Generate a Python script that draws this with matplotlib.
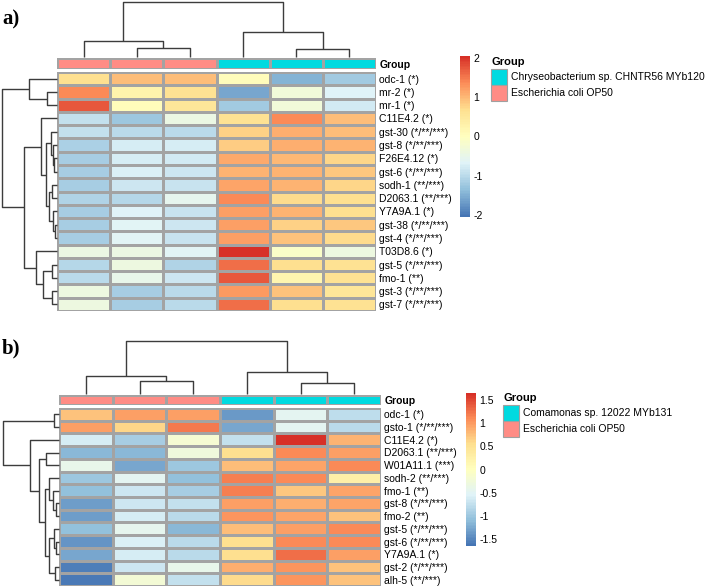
import numpy as np
import matplotlib
matplotlib.use("Agg")
import matplotlib.pyplot as plt
from matplotlib.colors import LinearSegmentedColormap, ListedColormap
from matplotlib.patches import Rectangle

plt.rcParams['font.family'] = ['Liberation Sans', 'DejaVu Sans']

W, H = 709, 587

# ---------------- data: panel a ----------------
genes_a = ["odc-1 (*)", "mr-2 (*)", "mr-1 (*)", "C11E4.2 (*)", "gst-30 (*/**/***)",
           "gst-8 (*/**/***)", "F26E4.12 (*)", "gst-6 (*/**/***)", "sodh-1 (**/***)",
           "D2063.1 (**/***)", "Y7A9A.1 (*)", "gst-38 (*/**/***)", "gst-4 (*/**/***)",
           "T03D8.6 (*)", "gst-5 (*/**/***)", "fmo-1 (**)", "gst-3 (*/**/***)",
           "gst-7 (*/**/***)"]
values_a = np.array([
    [0.70, 0.95, 0.95, 0.05, -1.45, -1.20],
    [1.40, 0.25, 0.65, -1.59, -0.32, -0.68],
    [1.75, 0.05, 0.55, -1.20, -0.32, -0.81],
    [-0.91, -1.26, -0.44, 0.62, 1.37, 0.95],
    [-0.91, -1.01, -1.01, 0.81, 1.08, 0.96],
    [-1.15, -0.78, -0.78, 0.85, 1.08, 1.04],
    [-1.17, -0.78, -0.80, 1.15, 1.02, 0.75],
    [-1.17, -0.72, -0.84, 1.05, 1.04, 0.90],
    [-1.17, -0.84, -0.89, 1.18, 1.04, 0.78],
    [-1.10, -1.06, -0.55, 1.40, 0.73, 0.70],
    [-1.17, -0.68, -0.89, 1.21, 1.04, 0.68],
    [-1.17, -0.62, -0.86, 1.21, 0.81, 0.89],
    [-1.17, -0.65, -0.89, 1.21, 0.91, 0.71],
    [-0.42, -0.42, -0.65, 2.05, -0.11, -0.40],
    [-1.06, -0.40, -1.10, 1.59, 0.68, 0.62],
    [-1.01, -0.51, -0.84, 1.75, 0.22, 0.62],
    [-0.40, -1.17, -1.01, 1.27, 0.91, 0.54],
    [-0.40, -1.17, -1.01, 1.59, 0.70, 0.62],
])
groups_a = ["Chryseobacterium sp. CHNTR56 MYb120", "Escherichia coli OP50"]
col_group_a = [1, 1, 1, 0, 0, 0]
# trees: (left, right, merge height); leaves are row/column indices
col_tree_a = ((0, (1, 2, 9), 16), (3, (4, 5, 8), 25), 56)
row_tree_a = (
    (0, (1, 2, 10), 28),
    ((3, ((4, (5, (6, 7, 3), 4), 6), ((8, 9, 5), (10, (11, 12, 2), 4), 8), 11), 16),
     (13, ((14, 15, 5), (16, 17, 5), 14), 21), 33),
    55)
lim_a = 2.06
ticks_a = [-2, -1, 0, 1, 2]

# ---------------- data: panel b ----------------
genes_b = ["odc-1 (*)", "gsto-1 (*/**/***)", "C11E4.2 (*)", "D2063.1 (**/***)",
           "W01A11.1 (***)", "sodh-2 (**/***)", "fmo-1 (**)", "gst-8 (*/**/***)",
           "fmo-2 (**)", "gst-5 (*/**/***)", "gst-6 (*/**/***)", "Y7A9A.1 (*)",
           "gst-2 (*/**/***)", "alh-5 (**/***)"]
values_b = np.array([
    [0.74, 0.97, 0.97, -1.38, -0.48, -0.77],
    [0.97, 0.61, 1.21, -1.27, -0.48, -0.83],
    [-0.62, -0.94, -0.17, -0.74, 1.65, 0.84],
    [-1.14, -1.14, -0.28, 0.55, 1.10, 0.97],
    [-0.43, -1.27, -1.02, 0.78, 0.95, 1.10],
    [-1.02, -0.49, -1.08, 1.18, 1.10, 0.27],
    [-1.08, -0.69, -0.94, 1.18, 0.72, 0.95],
    [-1.35, -0.69, -0.74, 0.98, 0.88, 0.95],
    [-1.35, -0.62, -0.83, 1.03, 0.95, 0.74],
    [-1.08, -0.45, -1.14, 0.78, 0.97, 1.10],
    [-1.40, -0.58, -0.83, 0.55, 1.10, 1.10],
    [-1.27, -0.62, -0.81, 0.55, 1.28, 0.97],
    [-1.58, -0.69, -0.40, 0.87, 1.03, 0.76],
    [-1.61, -0.20, -0.74, 0.59, 1.03, 0.76],
])
groups_b = ["Comamonas sp. 12022 MYb131", "Escherichia coli OP50"]
col_group_b = [1, 1, 1, 0, 0, 0]
col_tree_b = ((0, (1, 2, 13), 18), (3, (4, 5, 11), 22), 54)
row_tree_b = (
    (0, 1, 5),
    (2, ((3, 4, 13),
         ((5, (6, (7, 8, 3), 6), 10), ((9, (10, 11, 3), 5), (12, 13, 4), 10), 14), 20), 29),
    56)
lim_b = 1.66
ticks_b = [-1.5, -1, -0.5, 0, 0.5, 1, 1.5]

# ---------------- style ----------------
palette = ["#4575B4", "#91BFDB", "#E0F3F8", "#FFFFBF", "#FEE090", "#FC8D59", "#D73027"]
cmap = LinearSegmentedColormap.from_list("rdylbu", palette, N=100)
group_cmap = ListedColormap(["#00DAE0", "#FF8C85"])
border = "#A3A3A3"
tree_col = "#3c3c3c"
fs = 7.5


def box(x0, y0, x1, y1):
    return [x0 / W, 1 - y1 / H, (x1 - x0) / W, (y1 - y0) / H]


def draw_tree(ax, node, orient):
    if isinstance(node, int):
        return node + 0.5, 0.0
    pl, hl = draw_tree(ax, node[0], orient)
    pr, hr = draw_tree(ax, node[1], orient)
    h = node[2]
    xs = [pl, pl, pr, pr]
    ys = [hl, h, h, hr]
    if orient == "left":
        xs, ys = ys, xs
    ax.plot(xs, ys, color=tree_col, lw=1.0, clip_on=False, solid_capstyle="butt")
    return (pl + pr) / 2, h


def panel(fig, vals, genes, col_group, groups, col_tree, row_tree, lim, ticks,
          hm, bar_y, top_y, left_x, cb, leg, letter, letter_y):
    x0, y0, x1, y1 = hm
    nr, nc = vals.shape

    ax = fig.add_axes(box(x0, y0, x1, y1))
    ax.pcolormesh(vals, cmap=cmap, vmin=-lim, vmax=lim, edgecolors=border, linewidth=0.9)
    ax.set_xlim(0, nc)
    ax.set_ylim(nr, 0)
    ax.set_xticks([])
    ax.yaxis.tick_right()
    ax.set_yticks(np.arange(nr) + 0.5)
    ax.set_yticklabels(genes, fontsize=fs)
    ax.tick_params(axis="y", length=0, pad=2.5)
    for s in ax.spines.values():
        s.set_visible(False)

    # annotation bar
    axb = fig.add_axes(box(x0, bar_y[0], x1, bar_y[1]))
    axb.pcolormesh(np.array([col_group]), cmap=group_cmap, vmin=0, vmax=1,
                   edgecolors=border, linewidth=0.9)
    axb.set_xlim(0, nc)
    axb.set_ylim(1, 0)
    axb.set_xticks([])
    axb.yaxis.tick_right()
    axb.set_yticks([0.5])
    axb.set_yticklabels(["Group"], fontsize=fs, fontweight="bold")
    axb.tick_params(axis="y", length=0, pad=2.5)
    for s in axb.spines.values():
        s.set_visible(False)

    # column dendrogram
    axc = fig.add_axes(box(x0, top_y, x1, bar_y[0] - 1))
    draw_tree(axc, col_tree, "top")
    axc.set_xlim(0, nc)
    axc.set_ylim(0, col_tree[2])
    axc.axis("off")

    # row dendrogram
    axr = fig.add_axes(box(left_x, y0, x0, y1))
    draw_tree(axr, row_tree, "left")
    axr.set_xlim(row_tree[2], 0)
    axr.set_ylim(nr, 0)
    axr.axis("off")

    # colour legend
    axk = fig.add_axes(box(*cb))
    lv = np.linspace(-lim, lim, 101)
    axk.pcolormesh([0, 1], lv, ((lv[:-1] + lv[1:]) / 2)[:, None], cmap=cmap,
                   vmin=-lim, vmax=lim)
    axk.set_ylim(-lim, lim)
    axk.set_xticks([])
    axk.yaxis.tick_right()
    axk.set_yticks(ticks)
    axk.set_yticklabels([f"{t:g}" for t in ticks], fontsize=fs)
    axk.tick_params(axis="y", length=0, pad=2.5)
    for s in axk.spines.values():
        s.set_visible(False)

    # group legend
    lx, ly = leg
    over.text(lx, ly, "Group", fontsize=fs + 0.5, fontweight="bold", va="center", ha="left")
    for i, name in enumerate(groups):
        over.add_patch(Rectangle((lx, ly + 7 + 16 * i), 16, 16, facecolor=group_cmap(i),
                                 edgecolor="#A0A0A0", lw=0.8))
        over.text(lx + 20, ly + 15 + 16 * i, name, fontsize=fs, va="center", ha="left")

    over.text(2, letter_y, letter, fontsize=15, fontweight="bold",
              family="Liberation Serif", va="center", ha="left")


fig = plt.figure(figsize=(W / 100, H / 100), dpi=100)
over = fig.add_axes([0, 0, 1, 1], zorder=5)
over.set_xlim(0, W)
over.set_ylim(H, 0)
over.axis("off")

panel(fig, values_a, genes_a, col_group_a, groups_a, col_tree_a, row_tree_a, lim_a, ticks_a,
      hm=(57, 72, 376, 311), bar_y=(58, 69), top_y=2, left_x=2,
      cb=(460, 56, 470, 217), leg=(491, 62), letter="a)", letter_y=19)
panel(fig, values_b, genes_b, col_group_b, groups_b, col_tree_b, row_tree_b, lim_b, ticks_b,
      hm=(59, 408, 381, 586), bar_y=(395, 405), top_y=341, left_x=3,
      cb=(466, 393, 476, 546), leg=(503, 398), letter="b)", letter_y=348)

fig.savefig("out.png", dpi=100)
